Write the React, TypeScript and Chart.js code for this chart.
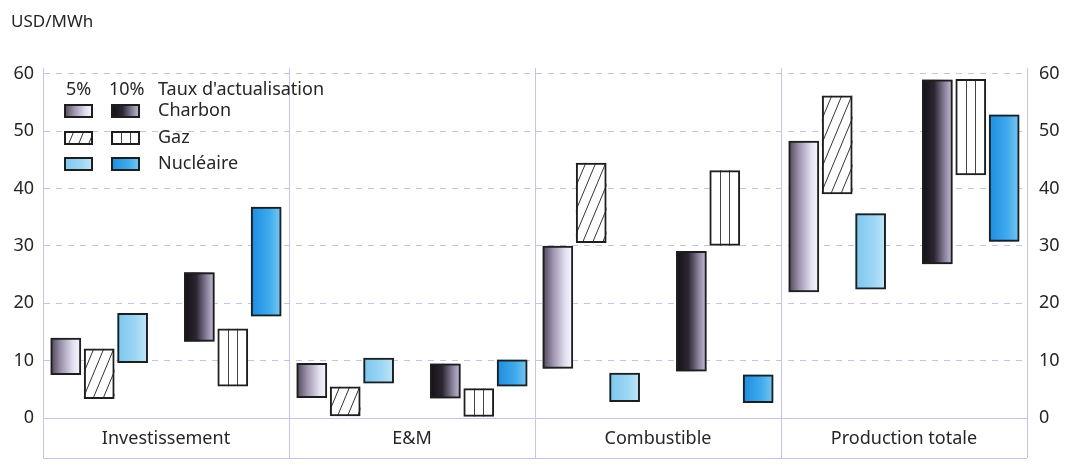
import React, { useEffect, useRef } from "react";
import { Chart, registerables } from "chart.js";

Chart.register(...registerables);

const categories = ["Investissement", "E&M", "Combustible", "Production totale"];
const charbon5: [number, number][] = [[7.5, 14], [3.5, 9.6], [8.6, 30], [21.9, 48.3]];
const gaz5: [number, number][] = [[3.3, 12.1], [0.3, 5.5], [30.5, 44.5], [39, 56.2]];
const nucleaire5: [number, number][] = [[9.6, 18.3], [6, 10.5], [2.8, 7.9], [22.4, 35.7]];
const charbon10: [number, number][] = [[13.3, 25.4], [3.4, 9.5], [8.1, 29.1], [26.8, 59]];
const gaz10: [number, number][] = [[5.5, 15.6], [0.2, 5.2], [30, 43.2], [42.3, 59.1]];
const nucleaire10: [number, number][] = [[17.7, 36.8], [5.5, 10.2], [2.6, 7.6], [30.7, 52.9]];
const yTicks = [0, 10, 20, 30, 40, 50, 60];
const legendHeader = ["5%", "10%", "Taux d'actualisation"];
const legendRows = ["Charbon", "Gaz", "Nucléaire"];

const FONT = "'Noto Sans', 'DejaVu Sans', sans-serif";
const TEXT = "#262626";
const GRID = "#c2c5e8";
const BORDER = "#1e1e1e";

type Kind = "coal5" | "gas5" | "nuc5" | "none" | "coal10" | "gas10" | "nuc10";
const KINDS: Kind[] = ["coal5", "gas5", "nuc5", "none", "coal10", "gas10", "nuc10"];

function paintFill(ctx: CanvasRenderingContext2D, kind: Kind, x: number, y: number, w: number, h: number) {
  if (kind === "none") return;
  ctx.save();
  ctx.beginPath();
  ctx.rect(x, y, w, h);
  ctx.clip();
  const grad = (stops: [number, string][]) => {
    const g = ctx.createLinearGradient(x, 0, x + w, 0);
    stops.forEach(([o, c]) => g.addColorStop(o, c));
    return g;
  };
  if (kind === "coal5") {
    ctx.fillStyle = grad([[0, "#4e4454"], [0.35, "#9e94ae"], [0.75, "#e4e2f2"], [1, "#f7f7fd"]]);
    ctx.fillRect(x, y, w, h);
  } else if (kind === "coal10") {
    ctx.fillStyle = grad([[0, "#121014"], [0.4, "#2c2632"], [0.75, "#8e86a0"], [1, "#c9c2dc"]]);
    ctx.fillRect(x, y, w, h);
  } else if (kind === "nuc5") {
    ctx.fillStyle = grad([[0, "#7cc6ee"], [0.6, "#9dd6f4"], [1, "#c2e7fa"]]);
    ctx.fillRect(x, y, w, h);
  } else if (kind === "nuc10") {
    ctx.fillStyle = grad([[0, "#1c8ce0"], [0.6, "#40aaec"], [1, "#7ac8f2"]]);
    ctx.fillRect(x, y, w, h);
  } else if (kind === "gas5") {
    ctx.fillStyle = "#ffffff";
    ctx.fillRect(x, y, w, h);
    ctx.strokeStyle = "#333333";
    ctx.lineWidth = 1;
    const slope = 2.4;
    const dx = h / slope;
    ctx.beginPath();
    for (let k = -dx; k < w + 10; k += 10) {
      ctx.moveTo(x + k, y + h);
      ctx.lineTo(x + k + dx, y);
    }
    ctx.stroke();
  } else if (kind === "gas10") {
    ctx.fillStyle = "#ffffff";
    ctx.fillRect(x, y, w, h);
    ctx.strokeStyle = "#444444";
    ctx.lineWidth = 1;
    ctx.beginPath();
    [0.36, 0.64].forEach((f) => {
      const lx = Math.round(x + w * f) + 0.5;
      ctx.moveTo(lx, y);
      ctx.lineTo(lx, y + h);
    });
    ctx.stroke();
  }
  ctx.restore();
}

const fillPlugin = {
  id: "fills",
  beforeDatasetsDraw(chart: any) {
    const ctx = chart.ctx as CanvasRenderingContext2D;
    chart.data.datasets.forEach((_ds: any, di: number) => {
      const kind = KINDS[di];
      const meta = chart.getDatasetMeta(di);
      meta.data.forEach((el: any) => {
        const p = el.getProps(["x", "y", "base", "width"], true);
        if (p.y == null || isNaN(p.y) || isNaN(p.base)) return;
        const left = p.x - p.width / 2;
        const top = Math.min(p.y, p.base);
        const h = Math.abs(p.base - p.y);
        paintFill(ctx, kind, left, top, p.width, h);
      });
    });
  },
};

const decorPlugin = {
  id: "decor",
  afterDraw(chart: any) {
    const ctx = chart.ctx as CanvasRenderingContext2D;
    const ca = chart.chartArea;
    ctx.save();
    ctx.strokeStyle = GRID;
    ctx.lineWidth = 1;
    ctx.beginPath();
    ctx.moveTo(ca.left, 458.5);
    ctx.lineTo(ca.right, 458.5);
    ctx.stroke();

    ctx.fillStyle = TEXT;
    ctx.font = `17px ${FONT}`;
    ctx.textBaseline = "middle";
    ctx.textAlign = "left";
    ctx.fillText("USD/MWh", 11, 22);

    ctx.font = `18px ${FONT}`;
    ctx.fillText(legendHeader[0], 66, 90);
    ctx.fillText(legendHeader[1], 109, 90);
    ctx.fillText(legendHeader[2], 158, 90);

    const rowY = [111, 138, 164];
    const kinds5: Kind[] = ["coal5", "gas5", "nuc5"];
    const kinds10: Kind[] = ["coal10", "gas10", "nuc10"];
    legendRows.forEach((label, i) => {
      const cy = rowY[i];
      const sy = cy - 7;
      [[64, kinds5[i]], [111, kinds10[i]]].forEach(([sx, k]) => {
        paintFill(ctx, k as Kind, sx as number, sy, 29, 14);
        ctx.strokeStyle = BORDER;
        ctx.lineWidth = 2;
        ctx.strokeRect((sx as number) + 1, sy + 1, 27, 12);
      });
      ctx.fillStyle = TEXT;
      ctx.font = `18px ${FONT}`;
      ctx.textAlign = "left";
      ctx.textBaseline = "middle";
      ctx.fillText(label, 158, cy);
    });
    ctx.restore();
  },
};

export default function App() {
  const ref = useRef<HTMLCanvasElement | null>(null);
  useEffect(() => {
    if (!ref.current) return;
    const mk = (label: string, data: any) => ({
      label,
      data,
      backgroundColor: "rgba(0,0,0,0)",
      borderColor: BORDER,
      borderWidth: 2,
      borderSkipped: false,
      barPercentage: 0.92,
      categoryPercentage: 0.95,
    });
    const chart = new Chart(ref.current, {
      type: "bar",
      data: {
        labels: categories,
        datasets: [
          mk("Charbon 5%", charbon5),
          mk("Gaz 5%", gaz5),
          mk("Nucléaire 5%", nucleaire5),
          mk("", categories.map(() => null)),
          mk("Charbon 10%", charbon10),
          mk("Gaz 10%", gaz10),
          mk("Nucléaire 10%", nucleaire10),
        ],
      },
      options: {
        animation: false,
        responsive: false,
        devicePixelRatio: 1,
        layout: { padding: { top: 68, left: 0, right: 0, bottom: 0 } },
        plugins: { legend: { display: false }, tooltip: { enabled: false }, title: { display: false } },
        scales: {
          x: {
            offset: true,
            grid: { display: true, offset: true, color: GRID, lineWidth: 1, tickLength: 40, drawOnChartArea: true },
            border: { display: true, color: GRID, width: 1 },
            ticks: { color: TEXT, font: { family: FONT, size: 18 }, padding: -30, maxRotation: 0 },
            afterFit: (s: any) => { s.height = 47; },
          },
          y: {
            position: "left",
            min: 0,
            max: 61,
            afterBuildTicks: (s: any) => { s.ticks = yTicks.map((v) => ({ value: v })); },
            ticks: { color: TEXT, font: { family: FONT, size: 18 }, padding: 9 },
            grid: { color: GRID, lineWidth: 1, drawTicks: false },
            border: { display: true, color: "rgba(0,0,0,0)", dash: [6, 6] },
            afterFit: (s: any) => { s.width = 43; },
          },
          y2: {
            position: "right",
            min: 0,
            max: 61,
            afterBuildTicks: (s: any) => { s.ticks = yTicks.map((v) => ({ value: v })); },
            ticks: { color: TEXT, font: { family: FONT, size: 18 }, padding: 12 },
            grid: { display: false, drawTicks: false },
            border: { display: false },
            afterFit: (s: any) => { s.width = 44; },
          },
        },
      },
      plugins: [fillPlugin, decorPlugin],
    } as any);
    return () => chart.destroy();
  }, []);
  return (
    <div style={{ position: "absolute", left: 0, top: 0, width: 1071, height: 465, background: "#ffffff" }}>
      <canvas ref={ref} width={1071} height={465} />
    </div>
  );
}
